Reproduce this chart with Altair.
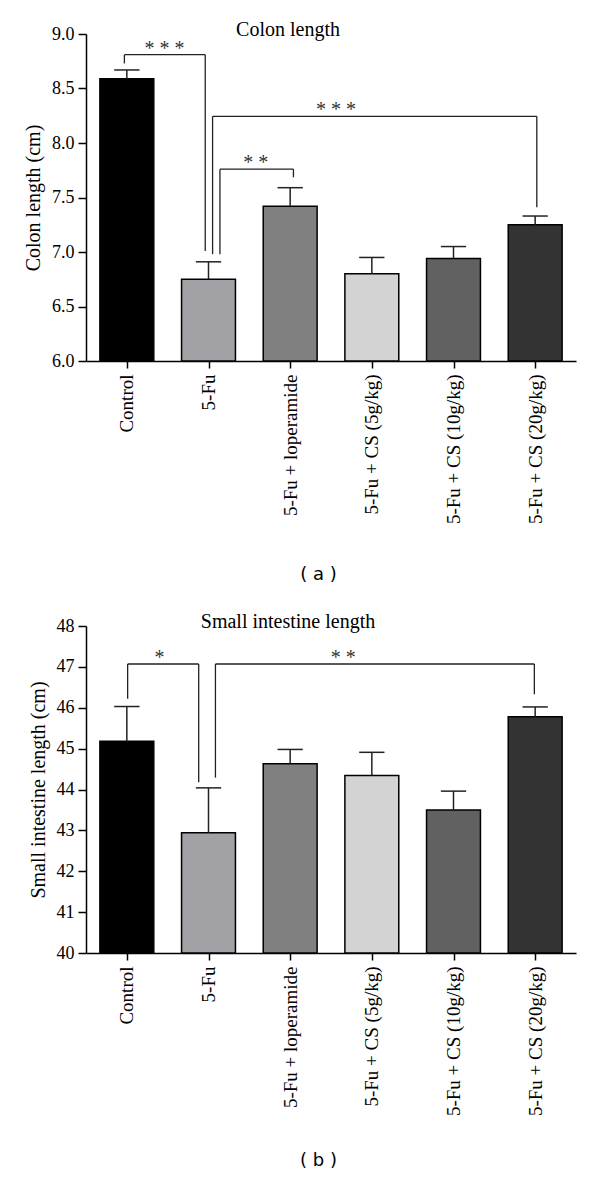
import json
import altair as alt
import pandas as pd

# ---------------- data ----------------
groups = ["Control", "5-Fu", "5-Fu + loperamide", "5-Fu + CS (5g/kg)",
          "5-Fu + CS (10g/kg)", "5-Fu + CS (20g/kg)"]
bar_colors = ["#000000", "#a1a1a6", "#808080", "#d3d3d3", "#616161", "#333333"]

colon_mean = [8.59, 6.75, 7.42, 6.80, 6.94, 7.25]
colon_err = [0.08, 0.16, 0.17, 0.15, 0.11, 0.08]

si_mean = [45.18, 42.94, 44.63, 44.34, 43.50, 45.78]
si_err = [0.85, 1.10, 0.35, 0.57, 0.46, 0.24]

# significance brackets (positions in group-index units / data units)
colon_br_left = [-0.03, 1.05, 1.14]
colon_br_right = [0.96, 5.02, 2.04]
colon_br_top = [8.81, 8.245, 7.76]
colon_br_left_end = [8.73, 6.98, 6.98]
colon_br_right_end = [7.01, 7.41, 7.685]
colon_br_label = ["* * *", "* * *", "* *"]
colon_br_label_x = [0.46, 2.56, 1.58]
colon_br_label_y = [8.86, 8.30, 7.82]

si_br_left = [0.01, 1.085]
si_br_right = [0.88, 4.99]
si_br_top = [47.07, 47.07]
si_br_left_end = [46.22, 44.29]
si_br_right_end = [44.18, 46.33]
si_br_label = ["*", "* *"]
si_br_label_x = [0.40, 2.65]
si_br_label_y = [47.22, 47.22]

SERIF = "Liberation Serif"
label_expr = json.dumps(groups) + "[datum.value]"


def panel(means, errs, br_l, br_r, br_t, br_le, br_re, br_lab, br_lx, br_ly,
          title, ytitle, ydomain, yvalues, yfmt, tag, tag_pad):
    df = pd.DataFrame({"idx": list(range(len(groups))), "group": groups,
                       "mean": means, "err": errs})
    xs = alt.Scale(domain=[-0.5, 5.5], nice=False, zero=False)
    ys = alt.Scale(domain=ydomain, nice=False, zero=False)

    bars = alt.Chart(df).transform_calculate(
        x0="datum.idx - 0.33", x1="datum.idx + 0.33"
    ).mark_bar(stroke="black", strokeWidth=1.5).encode(
        x=alt.X("x0:Q", scale=xs,
                axis=alt.Axis(values=list(range(6)), labelExpr=label_expr,
                              labelAngle=270, labelFontSize=19, labelPadding=6,
                              tickSize=7, title=tag, titleFont="DejaVu Sans",
                              titleFontSize=18, titleFontWeight="normal",
                              titlePadding=tag_pad, titleX=232)),
        x2="x1:Q",
        y=alt.Y("mean:Q", scale=ys,
                axis=alt.Axis(values=yvalues, format=yfmt, labelFontSize=18,
                              tickSize=8, labelPadding=4, title=ytitle,
                              titleFontSize=20, titleFontWeight="normal",
                              titlePadding=8)),
        y2=alt.datum(ydomain[0]),
        color=alt.Color("group:N", scale=alt.Scale(domain=groups, range=bar_colors),
                        legend=None),
    )

    err_stem = alt.Chart(df).transform_calculate(
        top="datum.mean + datum.err"
    ).mark_rule(color="#222222", strokeWidth=1.5).encode(
        x=alt.X("idx:Q", scale=xs), y=alt.Y("mean:Q", scale=ys), y2="top:Q"
    )
    err_cap = alt.Chart(df).transform_calculate(
        top="datum.mean + datum.err", c0="datum.idx - 0.155", c1="datum.idx + 0.155"
    ).mark_rule(color="#222222", strokeWidth=1.5).encode(
        x=alt.X("c0:Q", scale=xs), x2="c1:Q", y=alt.Y("top:Q", scale=ys)
    )

    rows = []
    for l, r, t, le, re_ in zip(br_l, br_r, br_t, br_le, br_re):
        rows.append({"x": l, "x2": r, "y": t, "y2": t})
        rows.append({"x": l, "x2": l, "y": t, "y2": le})
        rows.append({"x": r, "x2": r, "y": t, "y2": re_})
    seg = pd.DataFrame(rows)
    brackets = alt.Chart(seg).mark_rule(color="#222222", strokeWidth=1.3).encode(
        x=alt.X("x:Q", scale=xs), x2="x2:Q", y=alt.Y("y:Q", scale=ys), y2="y2:Q"
    )
    lab = pd.DataFrame({"x": br_lx, "y": br_ly, "t": br_lab})
    stars = alt.Chart(lab).mark_text(font=SERIF, fontSize=20, color="#333333",
                                     baseline="middle").encode(
        x=alt.X("x:Q", scale=xs), y=alt.Y("y:Q", scale=ys), text="t:N"
    )

    return alt.layer(bars, err_stem, err_cap, brackets, stars).properties(
        width=490, height=327,
        title=alt.TitleParams(title, font=SERIF, fontSize=20, fontWeight="normal",
                              color="black", dx=-43, offset=-15, anchor="middle"),
    )


a = panel(colon_mean, colon_err, colon_br_left, colon_br_right, colon_br_top,
          colon_br_left_end, colon_br_right_end, colon_br_label, colon_br_label_x,
          colon_br_label_y, "Colon length", "Colon length (cm)", [6.0, 9.0],
          [6.0, 6.5, 7.0, 7.5, 8.0, 8.5, 9.0], ".1f", "( a )", 42)
b = panel(si_mean, si_err, si_br_left, si_br_right, si_br_top, si_br_left_end,
          si_br_right_end, si_br_label, si_br_label_x, si_br_label_y,
          "Small intestine length", "Small intestine length (cm)", [40, 48],
          list(range(40, 49)), "d", "( b )", 36)

chart = alt.vconcat(a, b, spacing=28).properties(
    padding={"left": 15, "top": 12, "right": 5, "bottom": 5}
).configure_axis(
    domainColor="black", tickColor="black", labelColor="black", titleColor="black",
    grid=False, domainWidth=1.5, tickWidth=1.5, labelFont=SERIF, titleFont=SERIF,
).configure_view(stroke=None)

chart.save("out.html", embed_options={"renderer": "svg", "actions": False})
